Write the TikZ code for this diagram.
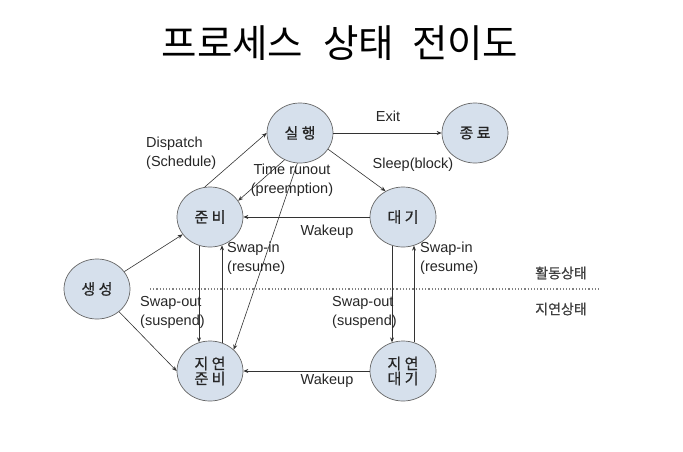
\documentclass[tikz,border=0pt]{standalone}
\usepackage{fontspec}
\setmainfont{Liberation Sans}
\newfontfamily\kr{Noto Sans CJK KR}
\newfontfamily\krb[FakeBold=0.8]{Noto Sans CJK KR}
\usetikzlibrary{shapes.geometric,arrows.meta}
\definecolor{nodefill}{HTML}{D6E0EC}
\definecolor{edgecol}{HTML}{333333}
\begin{document}
\begin{tikzpicture}[x=1pt,y=-1pt,
  state/.style={ellipse,draw=gray!80!black,line width=0.7pt,fill=nodefill,
    minimum width=66pt,minimum height=60pt,inner sep=0pt,
    font=\krb\fontsize{15}{17}\selectfont,text=black!85,align=center},
  arr/.style={draw=edgecol,line width=0.6pt,-{Stealth[length=5pt,width=4pt]}},
  lbl/.style={font=\fontsize{14.5}{19}\selectfont,text=black!85,inner sep=0pt,align=left},
  side/.style={font=\krb\fontsize{14}{16}\selectfont,text=black!75,inner sep=0pt}]
\useasboundingbox (0,0) rectangle (683,451);
\node[font=\kr\fontsize{38.5}{40}\selectfont,inner sep=0pt] (title) at (340,43) {프로세스\hspace{20pt}상태\hspace{18pt}전이도};
% states
\node[state] (run) at (300,133) {실 행};
\node[state] (exit) at (475,133) {종 료};
\node[state] (ready) at (210,217) {준 비};
\node[state] (wait) at (403,217) {대 기};
\node[state] (create) at (97,289) {생 성};
\node[state] (sready) at (210,371) {지 연\\[-2pt]준 비};
\node[state] (swait) at (403,371) {지 연\\[-2pt]대 기};
% separator
\coordinate (dl) at (150,289);
\coordinate (dr) at (600,289);
\draw[gray,dotted,line width=1.2pt] (dl) -- (dr);
\node[side] (active) at (561,273) {활동상태};
\node[side] (delayed) at (561,309) {지연상태};
% edges
\draw[arr] (create) -- (ready);
\draw[arr] (create) -- (sready.west);
\draw[arr] (ready.100) -- (run.west);
\draw[arr] (run.240) -- (ready.30);
\draw[arr] (run.265) -- (sready.42);
\draw[arr] (run) -- (exit);
\draw[arr] (run.-30) -- (wait.124);
\draw[arr] (wait) -- (ready);
\draw[arr] (ready.249) -- (sready.111);
\draw[arr] (sready.67) -- (ready.293);
\draw[arr] (wait.249) -- (swait.111);
\draw[arr] (swait.69) -- (wait.291);
\draw[arr] (swait) -- (sready);
% labels
\node[lbl,anchor=west] (ldisp) at (146,153) {Dispatch\\(Schedule)};
\node[lbl] (lexit) at (388,116) {Exit};
\node[lbl] (lsleep) at (413,165) {Sleep(block)};
\node[lbl,align=center] (ltime) at (292,180) {Time runout\\(preemption)};
\node[lbl] (lwake1) at (327,232) {Wakeup};
\node[lbl,anchor=west] (lsin1) at (227,258) {Swap-in\\(resume)};
\node[lbl,anchor=west] (lsout1) at (140,312) {Swap-out\\(suspend)};
\node[lbl,anchor=west] (lsin2) at (420,258) {Swap-in\\(resume)};
\node[lbl,anchor=west] (lsout2) at (332,312) {Swap-out\\(suspend)};
\node[lbl] (lwake2) at (327,381) {Wakeup};
\end{tikzpicture}
\end{document}
